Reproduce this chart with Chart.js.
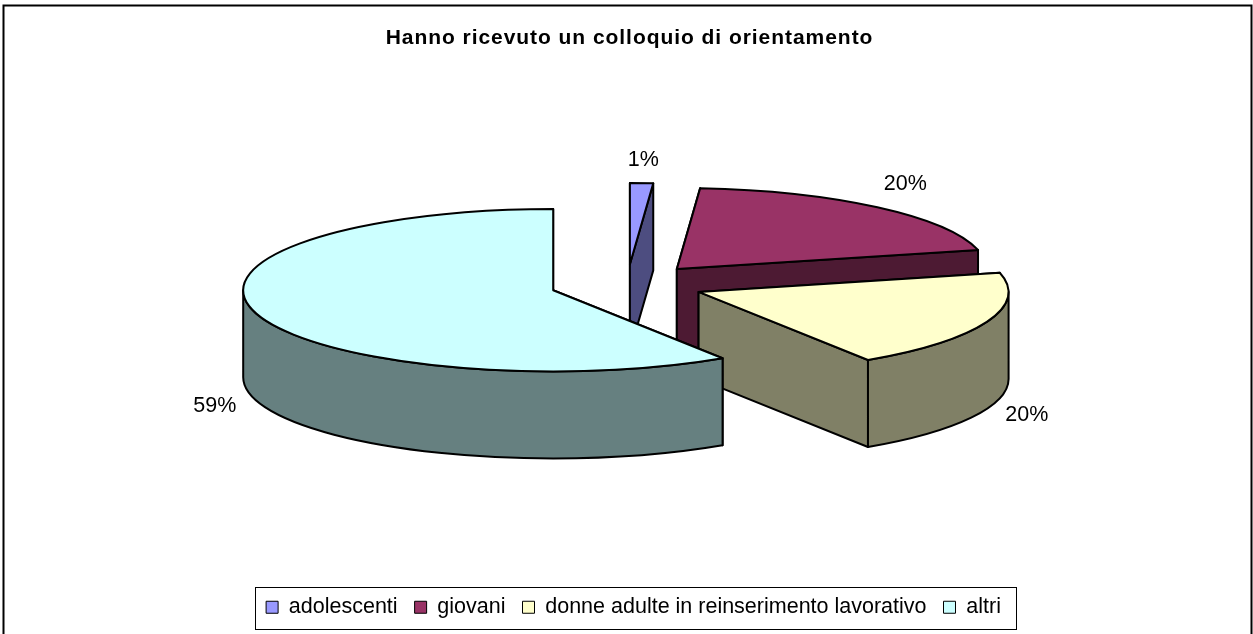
<!DOCTYPE html>
<html><head><meta charset="utf-8">
<style>html,body{margin:0;padding:0;background:#fff}#w{position:absolute;left:0;top:0;width:1253px;height:634px}</style>
<script src="https://cdn.jsdelivr.net/npm/chart.js@4"></script>
</head><body><div id="w"><canvas id="c" width="1253" height="634"></canvas></div>
<script>
const titleText = 'Hanno ricevuto un colloquio di orientamento';
const categories = ['adolescenti','giovani','donne adulte in reinserimento lavorativo','altri'];
const values = [1.2, 20, 19.6, 59.2];
const pctLabels = ['1%','20%','20%','59%'];
const topColors = ['#9999FF','#993366','#FFFFCC','#CCFFFF'];
const sideColors = ['#4D4D80','#4D1A33','#808066','#668080'];

const SQUASH = 0.262, DEPTH = 87, SHIFT = 77, RADIUS = 310;
const CENTER_Y = 284.5, FONT = '"Liberation Sans", Arial, sans-serif';
const LEGEND_CX = 635.5, LEGEND_CY = 608, LEGEND_HALF_W = 380.5, LEGEND_HALF_H = 21;

const pie3d = {
  id: 'pie3d',
  beforeDraw(chart){
    const ctx = chart.ctx;
    ctx.save();
    ctx.strokeStyle = '#000'; ctx.lineWidth = 2;
    ctx.beginPath(); ctx.moveTo(3.5, 640); ctx.lineTo(3.5, 5.5); ctx.lineTo(1251.5, 5.5); ctx.lineTo(1251.5, 640); ctx.stroke();
    ctx.restore();
    ctx.save(); ctx.strokeStyle = '#000'; ctx.lineWidth = 1;
    ctx.strokeRect(Math.round(LEGEND_CX-LEGEND_HALF_W)+.5, LEGEND_CY-LEGEND_HALF_H+.5, LEGEND_HALF_W*2, LEGEND_HALF_H*2);
    ctx.restore();
  },
  afterLayout(chart){
    const a = chart.chartArea;
    a.top = CENTER_Y - 320; a.bottom = CENTER_Y + 320; a.left = 0; a.right = 1254;
    a.width = a.right - a.left; a.height = a.bottom - a.top;
    const l = chart.legend;
    const shift = LEGEND_CX - 2 - (l.left + l.right)/2;
    l.left += shift; l.right += shift;
    const t = chart.titleBlock;
    t.left += 3; t.right += 3;
    if (!t._spaced) {
      const orig = t.draw.bind(t);
      t.draw = function(){ chart.ctx.letterSpacing = '0.95px'; orig(); chart.ctx.letterSpacing = '0px'; };
      t._spaced = true;
    }
  },
  beforeDatasetDraw(chart, args){
    const ctx = chart.ctx;
    const arcs = chart.getDatasetMeta(args.index).data;
    const cy0 = (chart.chartArea.top + chart.chartArea.bottom)/2;
    arcs.forEach((arc, i) => {
      const {x, startAngle:s, endAngle:e, outerRadius:r} = arc.getProps(['x','startAngle','endAngle','outerRadius'], true);
      const mid = (s+e)/2;
      const cx = x + Math.cos(mid)*SHIFT;
      const cy = cy0 + Math.sin(mid)*SHIFT*SQUASH;
      const px = a => cx + Math.cos(a)*r, py = a => cy + Math.sin(a)*r*SQUASH;
      const outline = () => { ctx.strokeStyle = '#000'; ctx.lineWidth = 2; ctx.lineJoin = 'round'; ctx.stroke(); };
      ctx.save();
      ctx.fillStyle = sideColors[i];
      [s,e].forEach(a => {
        ctx.beginPath(); ctx.moveTo(cx,cy); ctx.lineTo(px(a),py(a)); ctx.lineTo(px(a),py(a)+DEPTH); ctx.lineTo(cx,cy+DEPTH); ctx.closePath();
        ctx.fill(); outline();
      });
      // outer wall: the part of the rim facing the viewer
      [[0,Math.PI],[2*Math.PI,3*Math.PI]].forEach(([lo,hi]) => {
        const a0 = Math.max(s,lo), a1 = Math.min(e,hi);
        if (a1 <= a0) return;
        ctx.beginPath();
        ctx.ellipse(cx,cy,r,r*SQUASH,0,a0,a1);
        ctx.lineTo(px(a1),py(a1)+DEPTH);
        ctx.ellipse(cx,cy+DEPTH,r,r*SQUASH,0,a1,a0,true);
        ctx.closePath(); ctx.fill(); outline();
      });
      // top face: the library's arc, exploded and squashed about the pie centre
      ctx.save();
      ctx.translate(0, cy0);
      ctx.scale(1, SQUASH);
      ctx.translate(0, -cy0);
      ctx.translate(Math.cos(mid)*SHIFT, Math.sin(mid)*SHIFT);
      arc.draw(ctx);
      ctx.restore();
      ctx.beginPath(); ctx.moveTo(cx,cy); ctx.ellipse(cx,cy,r,r*SQUASH,0,s,e); ctx.closePath(); outline();
      ctx.restore();
    });
    // percentage labels
    ctx.save();
    ctx.fillStyle = '#000'; ctx.font = '21.5px '+FONT; ctx.textAlign = 'center'; ctx.textBaseline = 'middle';
    arcs.forEach((arc, i) => {
      const {x, startAngle:s, endAngle:e, outerRadius:r} = arc.getProps(['x','startAngle','endAngle','outerRadius'], true);
      const mid = (s+e)/2;
      const lx = x + Math.cos(mid)*(SHIFT + r + 43);
      const base = cy0 + Math.sin(mid)*(SHIFT + r)*SQUASH;
      const ly = base + (Math.sin(mid) > 0 ? DEPTH + 6 : -23);
      ctx.fillText(pctLabels[i], lx, ly);
    });
    ctx.restore();
    return false;
  }
};

new Chart(document.getElementById('c'), {
  type: 'pie',
  data: { labels: categories, datasets: [{ data: values, backgroundColor: topColors, borderWidth: 0, hoverOffset: 0 }] },
  options: {
    responsive: false, animation: false, radius: RADIUS,
    plugins: {
      tooltip: {enabled:false},
      title: { display: true, text: titleText, color:'#000', font:{family:FONT, size:21, weight:'bold'}, padding:{top:26,bottom:5} },
      legend: { display: true, position:'bottom', labels:{ color:'#000', boxWidth:12, boxHeight:12, padding:17, font:{family:FONT, size:21.5},
        generateLabels(chart){ return categories.map((t,i)=>({text:t, fillStyle:topColors[i], strokeStyle:'#000', lineWidth:1, index:i})); } } }
    },
    layout:{padding:{bottom:6}}
  },
  plugins: [pie3d]
});
</script></body></html>
